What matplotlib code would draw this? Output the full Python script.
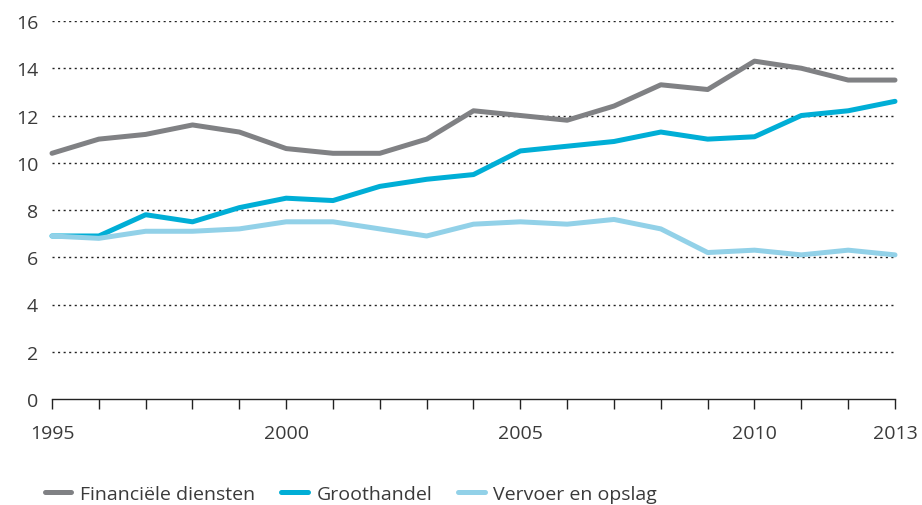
import matplotlib
matplotlib.use("Agg")
import matplotlib.pyplot as plt

years = list(range(1995, 2014))
financiele = [10.4, 11.0, 11.2, 11.6, 11.3, 10.6, 10.4, 10.4, 11.0, 12.2,
              12.0, 11.8, 12.4, 13.3, 13.1, 14.3, 14.0, 13.5, 13.5]
groothandel = [6.9, 6.9, 7.8, 7.5, 8.1, 8.5, 8.4, 9.0, 9.3, 9.5,
               10.5, 10.7, 10.9, 11.3, 11.0, 11.1, 12.0, 12.2, 12.6]
vervoer = [6.9, 6.8, 7.1, 7.1, 7.2, 7.5, 7.5, 7.2, 6.9, 7.4,
           7.5, 7.4, 7.6, 7.2, 6.2, 6.3, 6.1, 6.3, 6.1]
labels = ["Financiële diensten", "Groothandel", "Vervoer en opslag"]
colors = ["#808184", "#00AED6", "#92D1E8"]
yticks = [0, 2, 4, 6, 8, 10, 12, 14, 16]
xlabels = [1995, 2000, 2005, 2010, 2013]

plt.rcParams['font.family'] = ['Open Sans', 'DejaVu Sans']
txt = "#3a3a3a"
fs = 14

fig = plt.figure(figsize=(9.22, 5.06), dpi=100)
ax = fig.add_axes([52 / 922, 106 / 506, 843 / 922, 378 / 506])

# grid lines (not at zero)
for y in yticks[1:]:
    ax.axhline(y, color="#222222", lw=1.0, ls=(0, (1.5, 2.5)), zorder=1)

for data, lab, col in zip([financiele, groothandel, vervoer], labels, colors):
    ax.plot(years, data, color=col, lw=3.6, label=lab, solid_capstyle="round",
            clip_on=False, zorder=3)

ax.set_xlim(1995, 2013)
ax.set_ylim(0, 16)
ax.set_yticks(yticks)
ax.set_xticks(years)
ax.set_xticklabels([str(y) if y in xlabels else "" for y in years])
for s in ["top", "right", "left"]:
    ax.spines[s].set_visible(False)
ax.spines["bottom"].set_color("#222222")
ax.spines["bottom"].set_linewidth(1.0)
ax.tick_params(axis="x", direction="out", length=7, width=1.0, color="#222222",
               pad=11, labelsize=fs, labelcolor=txt)
ax.tick_params(axis="y", length=0, pad=10, labelsize=fs, labelcolor=txt)

fig.legend(loc="lower left", bbox_to_anchor=(45 / 922, 0.004), ncol=3, frameon=False,
           fontsize=fs, handlelength=1.35, handletextpad=0.45, columnspacing=1.35,
           borderpad=0, borderaxespad=0, labelcolor=txt)

fig.savefig("out.png", dpi=100)
